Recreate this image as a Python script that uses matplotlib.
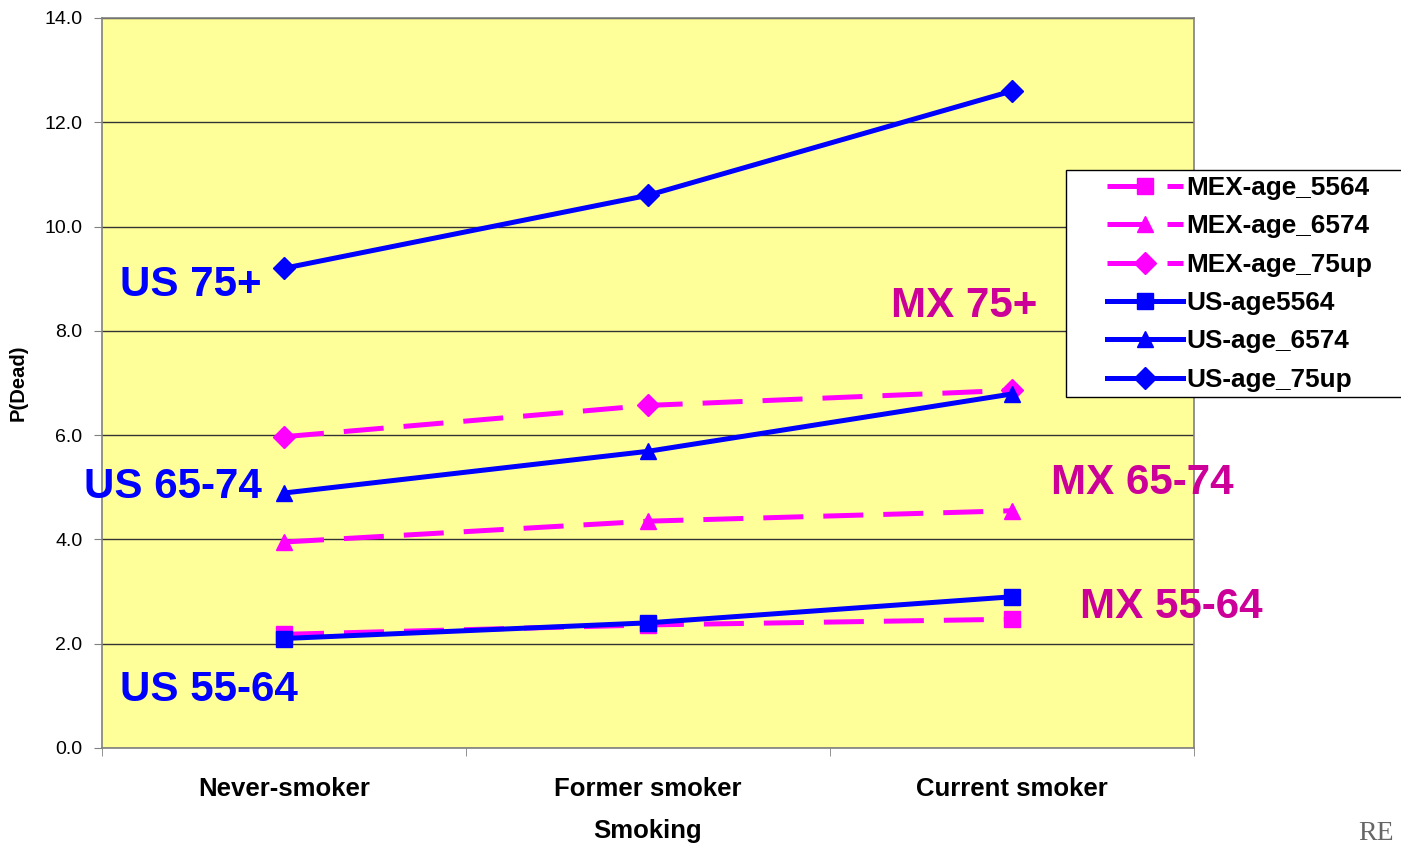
import numpy as np
import matplotlib
matplotlib.use("Agg")
import matplotlib.pyplot as plt
from matplotlib.patches import Rectangle

plt.rcParams['font.family'] = ['Liberation Sans', 'DejaVu Sans']

# smoking status categories
categories = ["Never-smoker", "Former smoker", "Current smoker"]

# P(Dead) by age group
mex_5564 = [2.18, 2.36, 2.47]
mex_6574 = [3.95, 4.35, 4.55]
mex_75up = [5.97, 6.57, 6.86]
us_5564 = [2.10, 2.40, 2.90]
us_6574 = [4.89, 5.69, 6.79]
us_75up = [9.20, 10.60, 12.60]

yticks = np.arange(0, 14.1, 2.0)

BLUE = "#0000FF"
PINK = "#FF00FF"
MXTXT = "#CC0099"

fig = plt.figure(figsize=(14.01, 8.44), dpi=100)
ax = fig.add_axes([102 / 1401, 1 - 748 / 844, 1092 / 1401, 730 / 844])
ax.set_facecolor("#FFFF99")

x = np.arange(len(categories))
lw = 3.6
ms = 12

ax.plot(x, mex_5564, color=PINK, lw=lw, dashes=(8, 4), marker="s", ms=ms, label="MEX-age_5564", zorder=3)
ax.plot(x, mex_6574, color=PINK, lw=lw, dashes=(8, 4), marker="^", ms=ms, label="MEX-age_6574", zorder=3)
ax.plot(x, mex_75up, color=PINK, lw=lw, dashes=(8, 4), marker="D", ms=ms - 1, label="MEX-age_75up", zorder=3)
ax.plot(x, us_5564, color=BLUE, lw=lw, marker="s", ms=ms, label="US-age5564", zorder=4)
ax.plot(x, us_6574, color=BLUE, lw=lw, marker="^", ms=ms, label="US-age_6574", zorder=4)
ax.plot(x, us_75up, color=BLUE, lw=lw, marker="D", ms=ms - 1, label="US-age_75up", zorder=4)

ax.set_xlim(-0.5, 2.5)
ax.set_ylim(0, 14)
ax.set_yticks(yticks)
ax.set_yticklabels([f"{v:.1f}" for v in yticks], fontsize=14)
ax.yaxis.grid(True, color="#333333", lw=1)
ax.set_axisbelow(True)

ax.set_xticks(x)
ax.set_xticklabels(categories, fontsize=18.5, fontweight="bold")
ax.set_xticks([-0.5, 0.5, 1.5, 2.5], minor=True)
ax.tick_params(axis="x", which="major", length=0, pad=21)
ax.tick_params(axis="x", which="minor", length=6, color="#808080")
ax.tick_params(axis="y", length=6, color="#808080", pad=8)

for s in ax.spines.values():
    s.set_color("#808080")
    s.set_linewidth(1.2)

ax.set_xlabel("Smoking", fontsize=18.5, fontweight="bold", labelpad=13)
ax.set_ylabel("P(Dead)", fontsize=14.5, fontweight="bold", labelpad=12)

# group labels
lab = dict(fontsize=30.3, fontweight="bold", ha="left", va="center", clip_on=False, zorder=6)
ax.text(-0.450, 8.88, "US 75+", color=BLUE, **lab)
ax.text(-0.549, 5.00, "US 65-74", color=BLUE, **lab)
ax.text(-0.450, 1.11, "US 55-64", color=BLUE, **lab)
ax.text(1.668, 8.48, "MX 75+", color=MXTXT, **lab)
ax.text(2.107, 5.08, "MX 65-74", color=MXTXT, **lab)
ax.text(2.187, 2.70, "MX 55-64", color=MXTXT, **lab)

# legend box
ax.add_patch(Rectangle((1066 / 1401, 1 - 397 / 844), 400 / 1401, 227 / 844,
                       transform=fig.transFigure, facecolor="white", edgecolor="black",
                       lw=1, clip_on=False, zorder=4.5))
leg = ax.legend(loc="upper left", bbox_to_anchor=(1107 / 1401, 1 - 176 / 844),
                bbox_transform=fig.transFigure, frameon=False,
                prop={"weight": "bold", "size": 18.8}, handlelength=2.9,
                handletextpad=0.15, labelspacing=0.55, borderpad=0, borderaxespad=0,
                numpoints=1)
leg.set_zorder(6)

fig.text(1358 / 1401, 1 - 834 / 844, "RE", family="Liberation Serif", fontsize=20,
         color="#666666", ha="left", va="center")

fig.savefig("out.png", dpi=100)
